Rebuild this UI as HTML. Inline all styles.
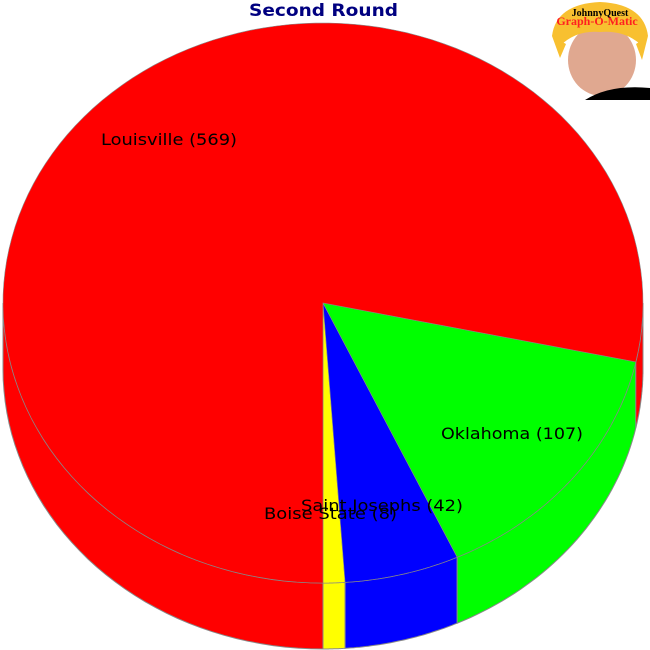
<!DOCTYPE html>
<html><head><meta charset="utf-8"><style>
html,body{margin:0;padding:0;background:#fff;}
svg{display:block;font-family:"DejaVu Sans","Liberation Sans",sans-serif;}
</style></head><body>
<svg id="chart" width="650" height="650" viewBox="0 0 650 650">
<text x="249" y="16" textLength="149" lengthAdjust="spacingAndGlyphs" font-weight="bold" font-size="17" fill="#000080">Second Round</text>
<g id="slices"></g>
<g id="labels"></g>
<g>
  <ellipse cx="602" cy="60" rx="34" ry="36" fill="#e0a890"/>
  <path d="M552 36 Q556 4 600 2 Q644 4 648 36 L640 44 Q624 30 600 32 Q576 30 560 46 Z" fill="#f8c030"/>
  <path d="M552 36 L560 58 L566 44 Z M648 36 L642 60 L636 44 Z" fill="#f8c030"/>
  <path d="M585 100 Q610 84 650 88 L650 100 Z" fill="#000"/>
  <text x="600" y="16" text-anchor="middle" font-family="Liberation Serif,serif" font-weight="bold" font-size="10" fill="#000">JohnnyQuest</text>
  <text x="597" y="25" text-anchor="middle" font-family="Liberation Serif,serif" font-weight="bold" font-size="12" fill="#ff2020">Graph-O-Matic</text>
</g>
</svg>
<script>
const categories = ["Boise State", "Saint Josephs", "Oklahoma", "Louisville"];
const values = [8, 42, 107, 569];
const colors = ["#ffff00", "#0000ff", "#00ff00", "#ff0000"];
const labelPos = [[264,519],[301,511],[441,439],[101,145]];
const labelLen = [133, 162, 142, 136];
const cx = 323, cy = 303, rx = 320, ry = 280, depth = 66;
const NS = "http://www.w3.org/2000/svg";
const g = document.getElementById('slices');
const lg = document.getElementById('labels');
const total = values.reduce((a,b)=>a+b,0);
function pt(a, dy){ return [cx + rx*Math.cos(a), cy + ry*Math.sin(a) + (dy||0)]; }
let angs = []; let cur = Math.PI/2;
values.forEach(v => { const nxt = cur - v/total*2*Math.PI; angs.push([nxt, cur]); cur = nxt; });
angs.forEach((r, i) => {
  for (let k = -2; k <= 1; k++) {
    const lo = Math.max(r[0], k*2*Math.PI), hi = Math.min(r[1], k*2*Math.PI + Math.PI);
    if (hi - lo > 1e-6) {
      const N = 40; let d = "";
      for (let j = 0; j <= N; j++) { const p = pt(lo + (hi-lo)*j/N); d += (j? "L":"M") + p[0].toFixed(1) + " " + p[1].toFixed(1); }
      for (let j = N; j >= 0; j--) { const p = pt(lo + (hi-lo)*j/N, depth); d += "L" + p[0].toFixed(1) + " " + p[1].toFixed(1); }
      d += "Z";
      const el = document.createElementNS(NS, 'path');
      el.setAttribute('d', d); el.setAttribute('fill', colors[i]);
      el.setAttribute('stroke', '#888'); el.setAttribute('stroke-width', '1');
      
      
      g.appendChild(el);
    }
  }
});
angs.forEach((r, i) => {
  const N = 120; let d = "M" + cx + " " + cy;
  for (let j = 0; j <= N; j++) { const p = pt(r[0] + (r[1]-r[0])*j/N); d += "L" + p[0].toFixed(1) + " " + p[1].toFixed(1); }
  d += "Z";
  const el = document.createElementNS(NS, 'path');
  el.setAttribute('d', d); el.setAttribute('fill', colors[i]);
  el.setAttribute('stroke', '#888'); el.setAttribute('stroke-width', '0.6');
  
  
  g.appendChild(el);
});
categories.forEach((c, i) => {
  const t = document.createElementNS(NS, 'text');
  t.setAttribute('x', labelPos[i][0]); t.setAttribute('y', labelPos[i][1]);
  t.setAttribute('font-size', '16'); t.setAttribute('fill', '#000');
  t.setAttribute('textLength', labelLen[i]); t.setAttribute('lengthAdjust', 'spacingAndGlyphs');
  t.textContent = c + " (" + values[i] + ")";
  
  
  lg.appendChild(t);
});
</script>
</body></html>
